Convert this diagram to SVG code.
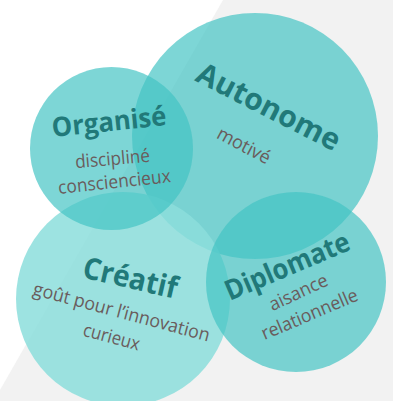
<svg xmlns="http://www.w3.org/2000/svg" width="393" height="401" viewBox="0 0 393 401">
<style>
.t{font-family:"Open Sans","Liberation Sans",sans-serif;font-weight:bold;fill:#217979;text-anchor:middle}
.s{font-family:"Open Sans","Liberation Sans",sans-serif;fill:#6a5c5c;text-anchor:middle}
.c{fill:#43c4c4;fill-opacity:0.69}
</style>
<rect width="393" height="401" fill="#ffffff"/>
<polygon points="223,0 393,0 393,401 0,401 0,390" fill="#f2f2f2"/>
<g id="autonome">
<circle class="c" cx="255" cy="136" r="123"/>
<text class="t" font-size="30" transform="translate(264,116) rotate(27)" textLength="157" lengthAdjust="spacingAndGlyphs">Autonome</text>
<text class="s" font-size="18.5" transform="translate(241,151) rotate(28)" textLength="58" lengthAdjust="spacingAndGlyphs">motivé</text>
</g>
<g id="creatif">
<circle cx="123" cy="299" r="107" fill="#8cdedc" fill-opacity="0.85"/>
<text class="t" font-size="30" transform="translate(128,288) rotate(13)" textLength="96" lengthAdjust="spacingAndGlyphs">Créatif</text>
<text class="s" font-size="18.5" transform="translate(120,318) rotate(15)" textLength="182" lengthAdjust="spacingAndGlyphs">goût pour l’innovation</text>
<text class="s" font-size="18.5" transform="translate(110,343) rotate(15)" textLength="58" lengthAdjust="spacingAndGlyphs">curieux</text>
</g>
<g id="organise">
<circle class="c" cx="111.5" cy="148.5" r="81.5" fill-opacity="0.72"/>
<text class="t" font-size="27" transform="translate(110,131) rotate(-6)" textLength="115" lengthAdjust="spacingAndGlyphs">Organisé</text>
<text class="s" font-size="18.5" transform="translate(113,165) rotate(-5)" textLength="75" lengthAdjust="spacingAndGlyphs">discipliné</text>
<text class="s" font-size="18.5" transform="translate(115,188) rotate(-6)" textLength="113" lengthAdjust="spacingAndGlyphs">consciencieux</text>
</g>
<g id="diplomate">
<circle class="c" cx="296" cy="282" r="90"/>
<text class="t" font-size="28" transform="translate(291,275) rotate(-23)" textLength="133" lengthAdjust="spacingAndGlyphs">Diplomate</text>
<text class="s" font-size="18.5" transform="translate(301,298) rotate(-25)" textLength="63" lengthAdjust="spacingAndGlyphs">aisance</text>
<text class="s" font-size="18.5" transform="translate(312,320) rotate(-23)" textLength="103" lengthAdjust="spacingAndGlyphs">relationnelle</text>
</g>
<g id="connectors"/>
</svg>
